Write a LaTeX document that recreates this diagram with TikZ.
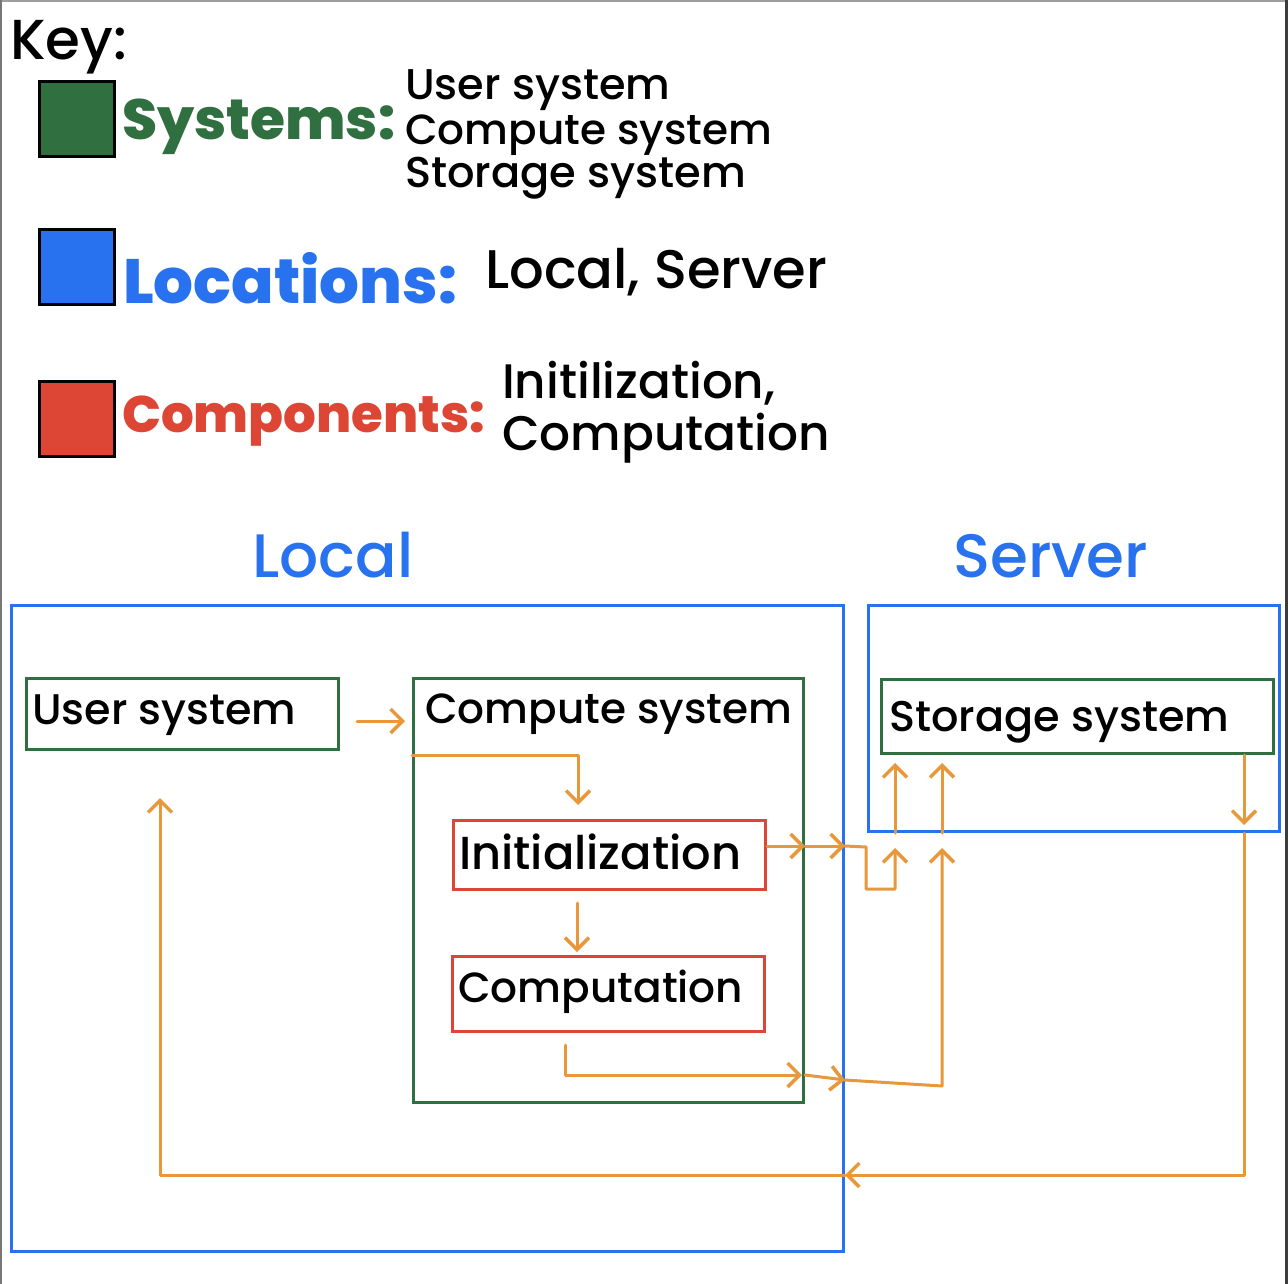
\documentclass[tikz,border=0pt]{standalone}
\usepackage{fontspec}
\setmainfont{Poppins}[UprightFont=* Medium, BoldFont=* ExtraBold]
\usetikzlibrary{arrows.meta,calc}
\definecolor{sysgreen}{RGB}{47,111,64}
\definecolor{locblue}{RGB}{40,114,240}
\definecolor{compred}{RGB}{221,70,52}
\definecolor{arrorange}{RGB}{232,152,58}
\definecolor{framegray}{RGB}{60,60,60}
\newcommand\fitw[2]{\resizebox{#1pt}{!}{#2}}
\begin{document}
\begin{tikzpicture}[x=1pt,y=-1pt,
 txt/.style={inner sep=0pt, anchor=base west},
 keysq/.style={draw=black, line width=3pt, minimum width=75pt, minimum height=75pt, inner sep=0pt, anchor=north west},
 locbox/.style={draw=locblue, line width=3pt, inner sep=0pt, anchor=north west},
 sysbox/.style={draw=sysgreen, line width=3pt, inner sep=0pt, anchor=north west},
 compbox/.style={draw=compred, line width=3pt, inner sep=0pt, anchor=north west},
 arr/.style={draw=arrorange, line width=3pt, line cap=round, line join=round, -{Straight Barb[length=12pt,width=24pt,line width=3.5pt]}}
]
\useasboundingbox (0,0) rectangle (1288,1284);
\fill[white] (0,0) rectangle (1288,1284);
% frame
\draw[framegray!50, line width=2pt] (0,1) -- (1288,1);
\draw[framegray!70, line width=2pt] (0.5,0) -- (0.5,1284);
\draw[framegray, line width=3pt] (1286.5,0) -- (1286.5,1284);

% key
\node[txt] (key) at (10,60) {\fitw{117}{Key:}};
\node[keysq, fill=sysgreen] (sqgreen) at (38,80) {};
\node[keysq, fill=locblue] (sqblue) at (38,228) {};
\node[keysq, fill=compred] (sqred) at (38,380) {};
\node[txt, text=sysgreen] (systems) at (122,140) {\fitw{273}{\bfseries Systems:}};
\node[txt] (kuser) at (405,100) {\fitw{265}{User system}};
\node[txt] (kcompute) at (405,145) {\fitw{367}{Compute system}};
\node[txt] (kstorage) at (405,188) {\fitw{341}{Storage system}};
\node[txt, text=locblue] (locations) at (123,303) {\fitw{334}{\bfseries Locations:}};
\node[txt] (klocal) at (485,288) {\fitw{342}{Local, Server}};
\node[txt, text=compred] (components) at (122,432) {\fitw{363}{\bfseries Components:}};
\node[txt] (kinit) at (502,398) {\fitw{273}{Initilization,}};
\node[txt] (kcomp) at (502,450) {\fitw{328}{Computation}};

% locations
\node[txt, text=locblue] (localtitle) at (252,577) {\fitw{161}{Local}};
\node[txt, text=locblue] (servertitle) at (953,577) {\fitw{195}{Server}};
\node[locbox, minimum width=832pt, minimum height=646pt] (local) at (10,604) {};
\node[locbox, minimum width=411pt, minimum height=226pt] (server) at (867,604) {};

% systems
\node[sysbox, minimum width=312pt, minimum height=71pt] (user) at (25,677) {};
\node[txt] (usertxt) at (32,724) {\fitw{264}{User system}};
\node[sysbox, minimum width=390pt, minimum height=424pt] (compute) at (412,677) {};
\node[txt] (computetxt) at (425,723) {\fitw{367}{Compute system}};
\node[sysbox, minimum width=392pt, minimum height=74pt] (storage) at (880,678) {};
\node[txt] (storagetxt) at (889,731) {\fitw{340}{Storage system}};

% components
\node[compbox, minimum width=312pt, minimum height=69pt] (init) at (452,819) {};
\node[txt] (inittxt) at (459,869) {\fitw{282}{Initialization}};
\node[compbox, minimum width=312pt, minimum height=75pt] (comp) at (451,955) {};
\node[txt] (comptxt) at (458,1002) {\fitw{285}{Computation}};

% helper coordinates
\coordinate (p1) at (357,721);
\coordinate (p2) at (578,755);
\coordinate (p3) at (577,900);
\coordinate (p4) at (0,846);
\coordinate (j1) at (866,847);
\coordinate (j2) at (895,889);
\coordinate (k0) at (565,1075);
\coordinate (k1) at (0,1080);
\coordinate (k2) at (942,1086);
\coordinate (m1) at (1244,1175);
\coordinate (m2) at (160,1175);

% arrows
\draw[arr, shorten >=7pt] (p1) -- (compute.west |- p1);
\draw[arr, shorten >=14pt] (compute.west |- p2) -- (p2) -- (p2 |- init.north);
\draw[arr, shorten <=12pt, shorten >=3pt] (p3 |- init.south) -- (p3 |- comp.north);
\draw[arr] (init.east |- p4) -- (compute.east |- p4);
\draw[arr] (compute.east |- p4) -- (local.east |- p4);
\draw[arr, shorten >=15pt] (local.east |- p4) -- (j1) |- (j2) -- (j2 |- server.south);
\draw[arr, shorten >=8pt] (j2 |- server.south) -- (j2 |- storage.south);
\draw[arr, shorten <=12pt, shorten >=3pt] (k0 |- comp.south) -- (k0) -- (compute.east |- k0);
\draw[arr] (compute.east |- k0) -- (local.east |- k1);
\draw[arr, shorten >=15pt] (local.east |- k1) -- (k2) -- (k2 |- server.south);
\draw[arr, shorten >=8pt] (k2 |- server.south) -- (k2 |- storage.south);
\draw[arr, shorten >=8pt] (m1 |- storage.south) -- (m1 |- server.south);
\draw[arr] (m1 |- server.south) -- (m1) -- (local.east |- m1);
\draw[arr, shorten >=47pt] (local.east |- m1) -- (m2) -- (m2 |- user.south);
\end{tikzpicture}
\end{document}
